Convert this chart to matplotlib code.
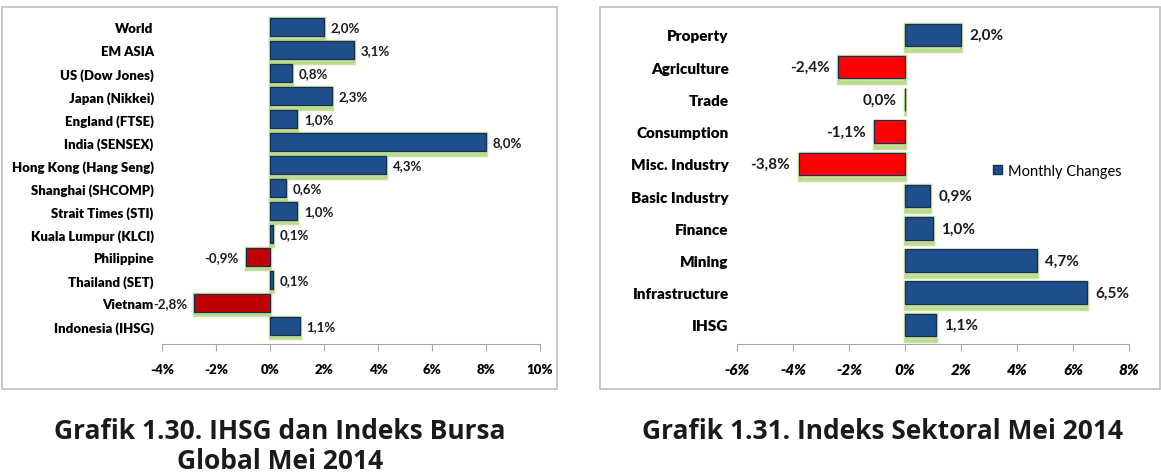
import matplotlib.pyplot as plt
from matplotlib.patches import Rectangle, Patch

# Global indices, May 2014 (monthly change, %)
global_names = ["World", "EM ASIA", "US (Dow Jones)", "Japan (Nikkei)", "England (FTSE)",
                "India (SENSEX)", "Hong Kong (Hang Seng)", "Shanghai (SHCOMP)",
                "Strait Times (STI)", "Kuala Lumpur (KLCI)", "Philippine",
                "Thailand (SET)", "Vietnam", "Indonesia (IHSG)"]
global_vals = [2.0, 3.1, 0.8, 2.3, 1.0, 8.0, 4.3, 0.6, 1.0, 0.1, -0.9, 0.1, -2.8, 1.1]
global_ticks = [-4, -2, 0, 2, 4, 6, 8, 10]

# Sector indices, May 2014
sector_names = ["Property", "Agriculture", "Trade", "Consumption", "Misc. Industry",
                "Basic Industry", "Finance", "Mining", "Infrastructure", "IHSG"]
sector_vals = [2.0, -2.4, 0.0, -1.1, -3.8, 0.9, 1.0, 4.7, 6.5, 1.1]
sector_ticks = [-6, -4, -2, 0, 2, 4, 6, 8]

FONT = "Lato"
BLUE = "#1f4e8c"
GLOW = "#b3d67e"


def fmt(v):
    return f"{v:.1f}%".replace(".", ",")


def draw(ax, names, vals, ticks, neg_color, height, fs, ylim, pad, tick_style, zero_left):
    n = len(names)
    ypos = list(range(n - 1, -1, -1))
    colors = [neg_color if v < 0 else BLUE for v in vals]
    # soft green glow behind bars
    ax.barh([y - 0.08 for y in ypos], vals, height=height + 0.14,
            color=GLOW, alpha=0.75, edgecolor=GLOW, linewidth=2.5, zorder=1)
    ax.barh(ypos, vals, height=height, color=colors, edgecolor="#1a2f4f",
            linewidth=0.9, zorder=2)
    for y, v in zip(ypos, vals):
        if v < 0 or (v == 0 and zero_left):
            ax.text(v - pad, y, fmt(v), ha="right", va="center", fontsize=fs,
                    family=FONT, fontweight="bold", color="#1a1a1a")
        else:
            ax.text(v + pad, y, fmt(v), ha="left", va="center", fontsize=fs,
                    family=FONT, fontweight="bold", color="#1a1a1a")
    ax.set_yticks(ypos)
    ax.set_yticklabels(names, fontsize=fs, family=FONT, fontweight="heavy")
    ax.set_xticks(ticks)
    ax.set_xticklabels([f"{t}%" for t in ticks], fontsize=fs, family=FONT,
                       fontweight="heavy", style=tick_style)
    ax.set_xlim(ticks[0], ticks[-1])
    ax.set_ylim(*ylim)
    for s in ["top", "right", "left"]:
        ax.spines[s].set_visible(False)
    ax.spines["bottom"].set_color("#a6a6a6")
    ax.tick_params(axis="y", length=0, pad=6)
    ax.tick_params(axis="x", direction="out", length=5, color="#a6a6a6", pad=9)
    ax.set_facecolor("none")


fig = plt.figure(figsize=(11.61, 4.77), dpi=100)

# panel frames
fig.patches.append(Rectangle((2 / 1161, 1 - 390 / 477), 555 / 1161, 382 / 477,
                             transform=fig.transFigure, fill=False,
                             edgecolor="#bfbfbf", linewidth=1.2))
fig.patches.append(Rectangle((600 / 1161, 1 - 390 / 477), 560 / 1161, 382 / 477,
                             transform=fig.transFigure, fill=False,
                             edgecolor="#bfbfbf", linewidth=1.2))

ax1 = fig.add_axes([162 / 1161, 1 - 345 / 477, 378 / 1161, 330 / 477])
draw(ax1, global_names, global_vals, global_ticks, "#c00000", 0.78, 9.5,
     (-0.78, 13.57), 0.25, "normal", False)

ax2 = fig.add_axes([737 / 1161, 1 - 345 / 477, 392 / 1161, 330 / 477])
draw(ax2, sector_names, sector_vals, sector_ticks, "#ff0000", 0.7, 11,
     (-0.59, 9.65), 0.3, "italic", True)
ax2.legend(handles=[Patch(facecolor=BLUE, edgecolor="#1a2f4f", label="Monthly Changes")],
           loc="center left", bbox_to_anchor=(0.62, 0.525), frameon=False,
           handlelength=0.6, handleheight=0.6, handletextpad=0.4,
           prop={"family": FONT, "size": 10.5})

cap = dict(ha="center", va="center", fontsize=19, family="Open Sans",
           fontweight="bold", color="#1a1a1a")
fig.text(280 / 1161, 1 - 432 / 477, "Grafik 1.30. IHSG dan Indeks Bursa", **cap)
fig.text(280 / 1161, 1 - 462 / 477, "Global Mei 2014", **cap)
fig.text(883 / 1161, 1 - 432 / 477, "Grafik 1.31. Indeks Sektoral Mei 2014", **cap)

fig.savefig("out.png", dpi=100)
